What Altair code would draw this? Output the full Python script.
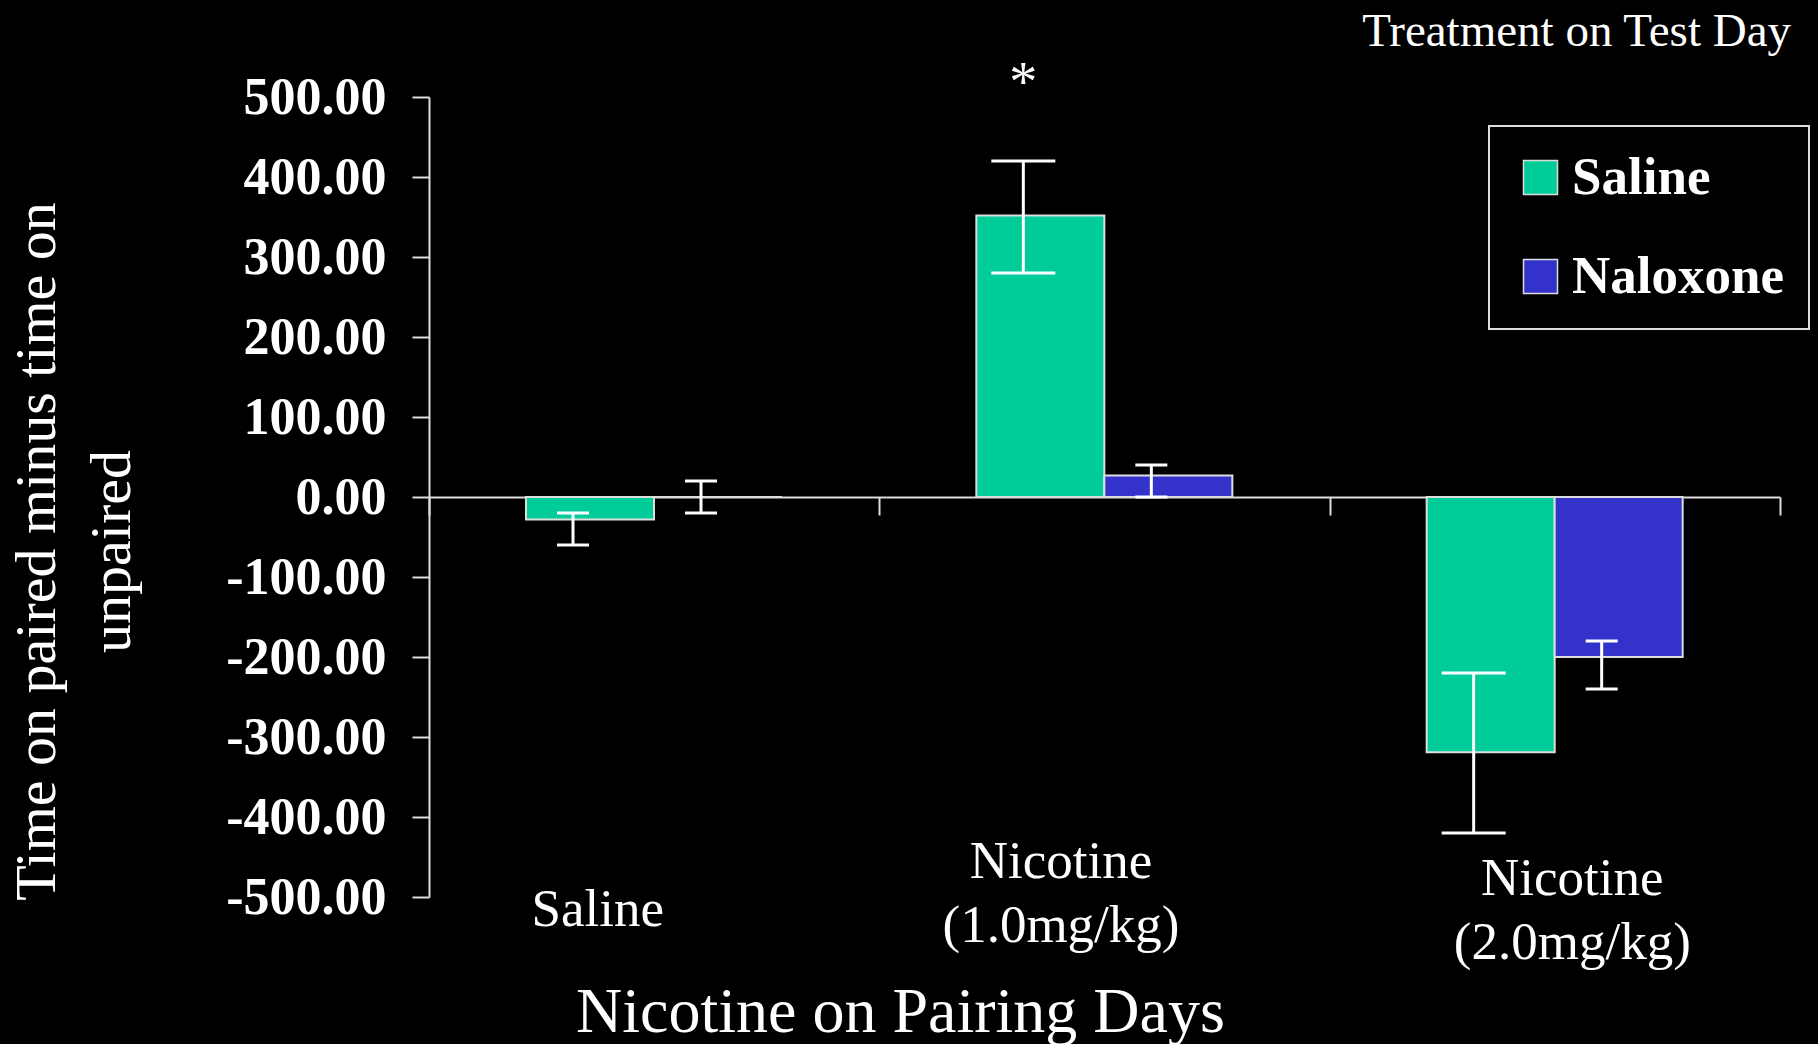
import altair as alt
import pandas as pd

# Conditioning drug given on pairing days (x groups) and treatment on test day (bars)
pairing = ["Saline", "Nicotine (1.0mg/kg)", "Nicotine (2.0mg/kg)"]
treatment = ["Saline", "Naloxone"]

saline_mean = [-28, 352, -319]
naloxone_mean = [0, 27, -200]

# error bar ends
saline_low = [-60, 280, -420]
saline_high = [-20, 420, -220]
naloxone_low = [-20, 0, -240]
naloxone_high = [20, 40, -180]

significance = ["", "*", ""]

y_ticks = [-500, -400, -300, -200, -100, 0, 100, 200, 300, 400, 500]

rows = []
for i, p in enumerate(pairing):
    rows.append({"pairing": p, "treatment": "Saline", "mean": saline_mean[i],
                 "low": saline_low[i], "high": saline_high[i], "sig": significance[i]})
    rows.append({"pairing": p, "treatment": "Naloxone", "mean": naloxone_mean[i],
                 "low": naloxone_low[i], "high": naloxone_high[i], "sig": ""})
df = pd.DataFrame(rows)

FONT = "Liberation Serif"
LINE = "#dddddd"

x_scale = alt.Scale(domain=pairing, paddingInner=0, paddingOuter=0)
bar_offset = alt.Scale(domain=treatment, range=[97, 353], paddingInner=0, paddingOuter=0)
err_offset = alt.Scale(domain=treatment, range=[80, 336], paddingInner=0, paddingOuter=0)
y_scale = alt.Scale(domain=[-500, 500], nice=False)

x_axis = alt.Axis(
    orient="bottom",
    offset=-400,
    domainColor=LINE,
    domainWidth=2,
    tickColor=LINE,
    tickWidth=2,
    tickSize=18,
    tickBand="extent",
    grid=False,
    labelAngle=0,
    labelFont=FONT,
    labelFontSize=53,
    labelColor="white",
    labelBaseline="top",
    labelLineHeight=64,
    labelLimit=600,
    labelExpr="split(datum.label, ' ')",
    labelPadding={
        "condition": [
            {"test": "datum.value == 'Saline'", "value": 368},
            {"test": "datum.value == 'Nicotine (1.0mg/kg)'", "value": 320},
        ],
        "value": 337,
    },
    labelOffset={
        "condition": [
            {"test": "datum.value == 'Saline'", "value": -57},
            {"test": "datum.value == 'Nicotine (1.0mg/kg)'", "value": -44},
        ],
        "value": 17,
    },
    title="Nicotine on Pairing Days",
    titleFont=FONT,
    titleFontSize=64,
    titleFontWeight="normal",
    titleColor="white",
    titleX=471,
    titleY=534,
    titleAlign="center",
    titleBaseline="alphabetic",
)

y_axis = alt.Axis(
    values=y_ticks,
    labelExpr="replace(format(datum.value, '.2f'), '\u2212', '-')",
    domainColor=LINE,
    domainWidth=2,
    tickColor=LINE,
    tickWidth=2,
    tickSize=17,
    grid=False,
    labelFont=FONT,
    labelFontSize=52,
    labelFontWeight="bold",
    labelColor="white",
    labelPadding=26,
    labelOverlap=False,
    title=["Time on paired minus time on", "unpaired"],
    titleFont=FONT,
    titleFontSize=58,
    titleFontWeight="normal",
    titleColor="white",
    titleLineHeight=75,
    titleLimit=1000,
    titleAngle=-90,
    titleAlign="center",
    titleBaseline="middle",
    titleX=-392,
    titleY=454,
)

base = alt.Chart(df)

bars = base.mark_bar(stroke=LINE, strokeWidth=2).encode(
    x=alt.X("pairing:N", scale=x_scale, axis=x_axis, sort=pairing),
    xOffset=alt.XOffset("treatment:N", scale=bar_offset, sort=treatment),
    y=alt.Y("mean:Q", scale=y_scale, axis=y_axis),
    color=alt.Color(
        "treatment:N",
        scale=alt.Scale(domain=treatment, range=["#00CC99", "#3333CC"]),
        legend=alt.Legend(
            orient="none",
            legendX=1060,
            legendY=29,
            title=None,
            strokeColor=LINE,
            fillColor="black",
            padding=25,
            symbolType="square",
            symbolSize=1156,
            symbolStrokeColor=LINE,
            symbolStrokeWidth=1.5,
            symbolOpacity=1,
            labelFont=FONT,
            labelFontSize=53,
            labelFontWeight="bold",
            labelColor="white",
            labelOffset=5,
            labelLimit=600,
            rowPadding=45,
        ),
    ),
)

err_x = alt.X("pairing:N", scale=x_scale, sort=pairing)
err_off = alt.XOffset("treatment:N", scale=err_offset, sort=treatment)

whisker = base.mark_rule(color="white", strokeWidth=3).encode(
    x=err_x, xOffset=err_off, y=alt.Y("low:Q", scale=y_scale), y2="high:Q"
)

cap_size = alt.Size(
    "half:Q", scale=alt.Scale(type="threshold", domain=[50], range=[32, 64]), legend=None
)

cap_low = base.transform_calculate(half="(datum.high - datum.low) / 2").mark_tick(
    color="white", thickness=3, opacity=1
).encode(x=err_x, xOffset=err_off, y=alt.Y("low:Q", scale=y_scale), size=cap_size)

cap_high = base.transform_calculate(half="(datum.high - datum.low) / 2").mark_tick(
    color="white", thickness=3, opacity=1
).encode(x=err_x, xOffset=err_off, y=alt.Y("high:Q", scale=y_scale), size=cap_size)

# significance marker above the error bar; text marks sit at the band start, so shift half a bar
stars = base.transform_filter("datum.sig != ''").mark_text(
    font=FONT, fontSize=56, color="white", dx=64, dy=-60, baseline="alphabetic"
).encode(x=err_x, xOffset=err_off, y=alt.Y("high:Q", scale=y_scale), text="sig:N")

chart = (
    alt.layer(bars, whisker, cap_low, cap_high, stars)
    .resolve_scale(xOffset="independent")
    .properties(
        width=1351,
        height=800,
        autosize="none",
        padding={"left": 429, "top": 97, "right": 38, "bottom": 147},
        background="black",
        title=alt.Title(
            "Treatment on Test Day",
            anchor="end",
            frame="group",
            font=FONT,
            fontSize=47,
            fontWeight="normal",
            color="white",
            baseline="alphabetic",
            dx=11,
            offset=-37,
        ),
    )
    .configure_view(stroke=None)
    .configure_legend(strokeWidth=2)
)

chart.save("out.html", embed_options={"renderer": "svg", "actions": False})
